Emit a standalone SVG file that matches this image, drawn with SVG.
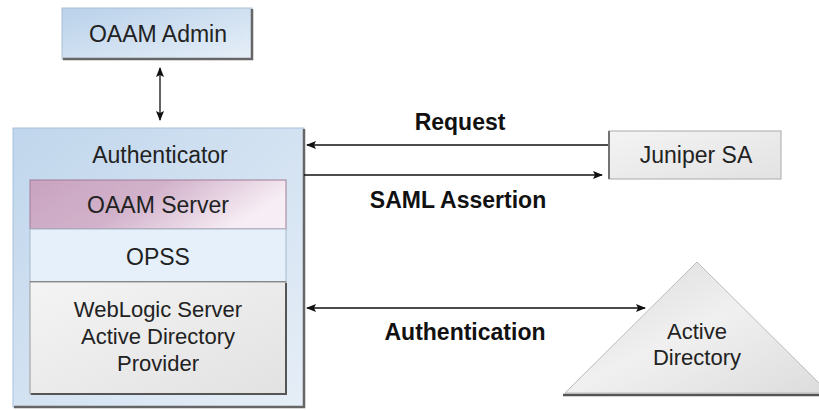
<svg xmlns="http://www.w3.org/2000/svg" width="819" height="410" viewBox="0 0 819 410">
<defs>
<linearGradient id="gBlue" x1="0" y1="0" x2="1" y2="1"><stop offset="0" stop-color="#b9d1ea"/><stop offset="1" stop-color="#e6eff8"/></linearGradient>
<linearGradient id="gAuth" x1="0" y1="0" x2="1" y2="1"><stop offset="0" stop-color="#c0d6ec"/><stop offset="1" stop-color="#e6eef7"/></linearGradient>
<linearGradient id="gPurple" x1="0" y1="0" x2="1" y2="0.3"><stop offset="0" stop-color="#c9a3c1"/><stop offset="0.5" stop-color="#d2b2cb"/><stop offset="1" stop-color="#f7eef5"/></linearGradient>
<linearGradient id="gGray" x1="0" y1="0" x2="1" y2="1"><stop offset="0" stop-color="#f4f4f4"/><stop offset="1" stop-color="#e2e2e2"/></linearGradient>
<linearGradient id="gTri" x1="0" y1="0" x2="1" y2="1"><stop offset="0" stop-color="#d9d9d9"/><stop offset="0.5" stop-color="#f0f0f0"/><stop offset="1" stop-color="#dcdcdc"/></linearGradient>
<marker id="ah" viewBox="0 0 10 10" refX="9" refY="5" markerWidth="10" markerHeight="10" markerUnits="userSpaceOnUse" orient="auto-start-reverse"><path d="M0,1 L10,5 L0,9 L2,5 Z" fill="#111"/></marker>
</defs>
<style>
.t{font-family:"Liberation Sans",Arial,sans-serif;font-size:23px;fill:#222;text-anchor:middle}
.s{font-size:22px}
.b{font-family:"Liberation Sans",Arial,sans-serif;font-size:23px;font-weight:bold;fill:#111;text-anchor:middle}
.sh{fill:none;stroke:#666;stroke-width:2.5}
.c{stroke:#111;stroke-width:1.3;fill:none}
</style>
<rect width="819" height="410" fill="#fff"/>
<g id="oaam-admin">
<rect x="62" y="8" width="190" height="51" fill="url(#gBlue)" stroke="#a9bfd6" stroke-width="1"/>
<path class="sh" d="M252,9 V59 H63"/>
<text class="t" x="158" y="42">OAAM Admin</text>
</g>
<g id="authenticator">
<rect x="13" y="128" width="291" height="279" fill="url(#gAuth)" stroke="#a9c1db" stroke-width="1"/>
<path class="sh" d="M304,129 V407 H14" stroke="#8a9cb0"/>
<text class="t" x="160" y="163">Authenticator</text>
</g>
<g id="oaam-server">
<rect x="30" y="180" width="256" height="49" fill="url(#gPurple)" stroke="#a07c98" stroke-width="1"/>
<text class="t" x="158" y="213">OAAM Server</text>
</g>
<g id="opss">
<rect x="30" y="229" width="256" height="53" fill="#e5f0fa" stroke="#a8b8c8" stroke-width="1"/>
<line x1="30" y1="282" x2="286" y2="282" stroke="#555" stroke-width="1.5"/>
<text class="t" x="158" y="265">OPSS</text>
</g>
<g id="weblogic">
<rect x="30" y="282" width="256" height="112" fill="url(#gGray)" stroke="#999" stroke-width="1"/>
<path d="M286,283 V394 H31" fill="none" stroke="#555" stroke-width="2"/>
<text class="t s" x="158" y="317">WebLogic Server</text>
<text class="t s" x="158" y="344">Active Directory</text>
<text class="t s" x="158" y="371">Provider</text>
</g>
<g id="juniper-sa">
<rect x="609" y="131" width="172" height="48" fill="url(#gGray)" stroke="#aaa" stroke-width="1"/>
<path d="M609,131 V179" stroke="#555" stroke-width="1.5"/>
<text class="t" x="696" y="163">Juniper SA</text>
</g>
<g id="active-directory">
<polygon points="697,262 565,393 829,393" fill="url(#gTri)" stroke="#bbb" stroke-width="1"/>
<line x1="563" y1="395" x2="819" y2="395" stroke="#555" stroke-width="2.5"/>
<text class="t s" x="697" y="339">Active</text>
<text class="t s" x="697" y="365">Directory</text>
</g>
<g id="connectors">
<line class="c" x1="160" y1="68" x2="160" y2="120" marker-start="url(#ah)" marker-end="url(#ah)"/>
<line class="c" x1="608" y1="145" x2="307" y2="145" marker-end="url(#ah)"/>
<line class="c" x1="304" y1="175" x2="602" y2="175" marker-end="url(#ah)"/>
<line class="c" x1="307" y1="308" x2="645" y2="308" marker-start="url(#ah)" marker-end="url(#ah)"/>
<text class="b" x="460" y="130">Request</text>
<text class="b" x="458" y="208">SAML Assertion</text>
<text class="b" x="465" y="340">Authentication</text>
</g>
</svg>
